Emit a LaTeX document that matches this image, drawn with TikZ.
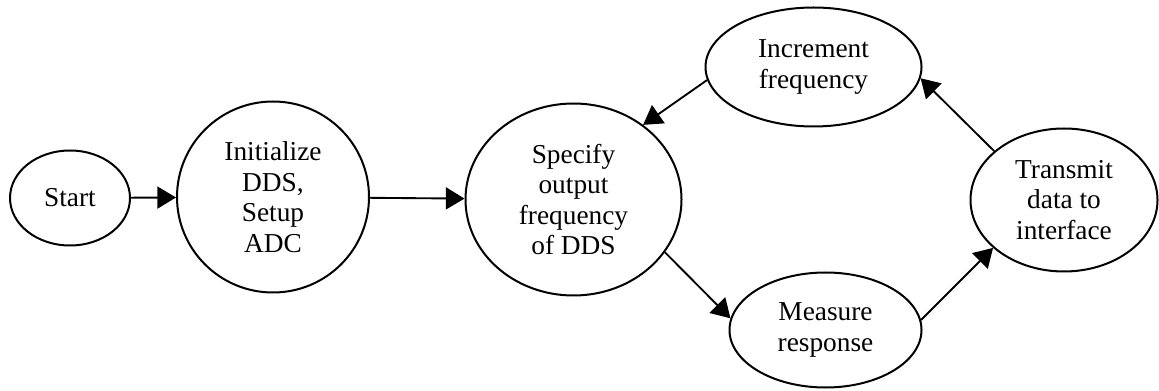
\documentclass[tikz,border=0pt]{standalone}
\usepackage{fontspec}
\setmainfont{Liberation Serif}
\usetikzlibrary{shapes.geometric,arrows.meta}
\begin{document}
\begin{tikzpicture}[x=0.75pt,y=-0.75pt,
  state/.style={draw,line width=1.5pt,ellipse,inner sep=0pt,align=center,
    font=\fontsize{20.5}{22.9}\selectfont},
  size/.style 2 args={minimum width=0.75*#1,minimum height=0.75*#2},
  flow/.style={line width=1.4pt,-{Triangle[length=14pt,width=16.5pt]}}]
\useasboundingbox (0,0) rectangle (1159,391);
\node[state,size={120}{95}] (start) at (70,198) {Start};
\node[state,size={192}{191}] (init) at (273,197) {Initialize\\DDS,\\Setup\\ADC};
\node[state,size={216}{192}] (spec) at (573.5,199.5) {Specify\\output\\frequency\\of DDS};
\node[state,size={216}{119}] (inc) at (813.5,67) {Increment\\frequency};
\node[state,size={192}{115}] (meas) at (825.5,330) {Measure\\response};
\node[state,size={187}{143}] (trans) at (1064,200) {Transmit\\data to\\interface};
\draw[flow] (start) -- (init);
\draw[flow] (init) -- (spec);
\draw[flow] (spec.-30) -- (meas.173);
\draw[flow] (meas.6) -- (trans.214);
\draw[flow] (trans.145) -- (inc.-6);
\draw[flow] (inc.187) -- (spec.47);
\end{tikzpicture}
\end{document}
